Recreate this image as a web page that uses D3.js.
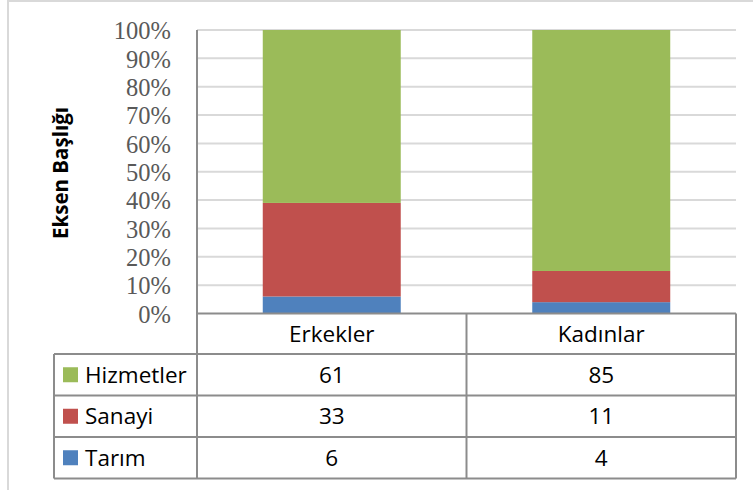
<!DOCTYPE html>
<html><head><meta charset="utf-8">
<script src="https://cdn.jsdelivr.net/npm/d3@7"></script>
<style>html,body{margin:0;padding:0;background:#fff;}svg{display:block;}</style>
</head><body>
<script>
const categories = ["Erkekler", "Kadınlar"];
const seriesNames = ["Hizmetler", "Sanayi", "Tarım"];
const hizmetler = [61, 85];
const sanayi = [33, 11];
const tarim = [6, 4];
const yTicks = [0, 0.1, 0.2, 0.3, 0.4, 0.5, 0.6, 0.7, 0.8, 0.9, 1];
const axisTitle = "Eksen Başlığı";
const colors = {"Hizmetler": "#9BBB59", "Sanayi": "#C0504D", "Tarım": "#4F81BD"};

const W = 753, H = 490;
const svg = d3.select("body").append("svg").attr("width", W).attr("height", H);

// outer chart border
svg.append("rect").attr("x", 8).attr("y", 1).attr("width", W).attr("height", H)
  .attr("fill", "none").attr("stroke", "#d9d9d9").attr("stroke-width", 2);

const plotL = 197, plotR = 736, plotT = 30, plotB = 313.5;
const x = d3.scaleBand().domain(categories).range([plotL, plotR]).paddingInner(0).paddingOuter(0);
const y = d3.scaleLinear().domain([0, 1]).range([plotB, plotT]);

// data rows
const rows = categories.map((c, i) => ({cat: c, "Tarım": tarim[i], "Sanayi": sanayi[i], "Hizmetler": hizmetler[i]}));
const stack = d3.stack().keys(["Tarım", "Sanayi", "Hizmetler"]).offset(d3.stackOffsetExpand);
const stacked = stack(rows);

// gridlines
svg.append("g").selectAll("line").data(yTicks.filter(t => t > 0)).join("line")
  .attr("x1", plotL).attr("x2", plotR)
  .attr("y1", d => y(d)).attr("y2", d => y(d))
  .attr("stroke", "#d9d9d9").attr("stroke-width", 2);

// bars
const barW = x.bandwidth() * 0.512;
svg.append("g").selectAll("g").data(stacked).join("g")
  .attr("fill", d => colors[d.key])
  .selectAll("rect").data(d => d).join("rect")
  .attr("x", d => x(d.data.cat) + (x.bandwidth() - barW) / 2)
  .attr("width", barW)
  .attr("y", d => y(d[1]))
  .attr("height", d => y(d[0]) - y(d[1]));

// y axis ticks labels
const yAxis = d3.axisLeft(y).tickValues(yTicks).tickFormat(d3.format(".0%")).tickSize(0).tickPadding(26);
const ya = svg.append("g").attr("transform", `translate(${plotL},0)`).call(yAxis);
ya.select(".domain").remove();
ya.selectAll("text").attr("font-family", "'Liberation Serif','Times New Roman',serif")
  .attr("font-size", 24.5).attr("fill", "#595959").attr("dy", "0.36em");

// axis title
svg.append("text").attr("transform", "translate(68,173) rotate(-90)")
  .attr("text-anchor", "middle").attr("font-family", "'Open Sans',sans-serif")
  .attr("font-weight", "bold").attr("font-size", 20.5).attr("fill", "#000").text(axisTitle);

// table
const lineC = "#8c8c8c", lw = 2;
const rowY = [313.5, 354, 395.5, 437, 478.5];
const tabL = 54;
const g = svg.append("g");
// vertical axis line
g.append("line").attr("x1", plotL).attr("x2", plotL).attr("y1", plotT).attr("y2", rowY[4])
  .attr("stroke", lineC).attr("stroke-width", lw);
// header top line (x axis)
g.append("line").attr("x1", plotL).attr("x2", plotR).attr("y1", rowY[0]).attr("y2", rowY[0])
  .attr("stroke", lineC).attr("stroke-width", lw);
// other horizontal lines
g.selectAll("line.h").data(rowY.slice(1)).join("line").attr("class", "h")
  .attr("x1", tabL).attr("x2", plotR).attr("y1", d => d).attr("y2", d => d)
  .attr("stroke", lineC).attr("stroke-width", lw);
// left edge of legend column
g.append("line").attr("x1", tabL).attr("x2", tabL).attr("y1", rowY[1]).attr("y2", rowY[4])
  .attr("stroke", lineC).attr("stroke-width", lw);
// column dividers
g.selectAll("line.v").data(categories).join("line").attr("class", "v")
  .attr("x1", d => x(d) + x.bandwidth()).attr("x2", d => x(d) + x.bandwidth())
  .attr("y1", rowY[0]).attr("y2", rowY[4])
  .attr("stroke", lineC).attr("stroke-width", lw);

const font = "'Open Sans',sans-serif", fs = 22.5;
// headers
g.selectAll("text.hd").data(categories).join("text").attr("class", "hd")
  .attr("x", d => x(d) + x.bandwidth() / 2).attr("y", (rowY[0] + rowY[1]) / 2)
  .attr("dy", "0.36em").attr("text-anchor", "middle")
  .attr("font-family", font).attr("font-size", fs).attr("fill", "#000").text(d => d);

const seriesVals = {"Hizmetler": hizmetler, "Sanayi": sanayi, "Tarım": tarim};
seriesNames.forEach((s, i) => {
  const cy = (rowY[i + 1] + rowY[i + 2]) / 2;
  g.append("rect").attr("x", 63).attr("y", cy - 7.5).attr("width", 15).attr("height", 15)
    .attr("fill", colors[s]);
  g.append("text").attr("x", 85).attr("y", cy).attr("dy", "0.36em")
    .attr("font-family", font).attr("font-size", fs).attr("fill", "#000").text(s);
  g.selectAll("text.v" + i).data(categories).join("text").attr("class", "v" + i)
    .attr("x", d => x(d) + x.bandwidth() / 2).attr("y", cy).attr("dy", "0.36em")
    .attr("text-anchor", "middle").attr("font-family", font).attr("font-size", fs)
    .attr("fill", "#000").text((d, j) => seriesVals[s][j]);
});
</script>
</body></html>
